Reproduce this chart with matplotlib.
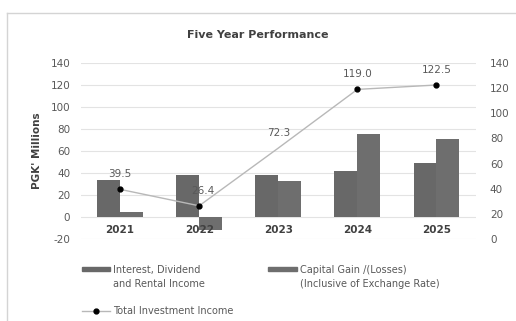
import matplotlib.pyplot as plt
import matplotlib.patches as mpatches
from matplotlib.lines import Line2D
import numpy as np

plt.rcParams['font.family'] = ['DejaVu Sans']
plt.rcParams['axes.unicode_minus'] = False

BAR1_COLOR = '#686868'
BAR2_COLOR = '#6e6e6e'
LINE_COLOR = '#b8b8b8'
TEXT_COLOR = '#595959'
DARK_TEXT = '#404040'

years = ['2021', '2022', '2023', '2024', '2025']
interest_income = [34.0, 38.5, 38.5, 42.0, 49.5]
capital_gain = [5.0, -12.0, 32.5, 75.5, 71.0]
total_income = [39.5, 26.4, 72.3, 119.0, 122.5]
total_label_dx = [0, 3, 0, 0, 0]

left_ticks = list(range(-20, 141, 20))
right_ticks = list(range(0, 141, 20))

legend_labels = [
    'Interest, Dividend\nand Rental Income',
    'Capital Gain /(Losses)\n(Inclusive of Exchange Rate)',
    'Total Investment Income',
]


def px(xp, yp):
    # pixel position (from top-left) -> figure fraction
    return xp / 516, 1 - yp / 321


fig = plt.figure(figsize=(5.16, 3.21), dpi=100)
fig.patch.set_facecolor('white')

# chart frame: only the top and left edges fall inside the image
fig.add_artist(Line2D([7 / 516, 1], [1 - 13 / 321] * 2, color='#d4d4d4', lw=1.0))
fig.add_artist(Line2D([7 / 516] * 2, [0, 1 - 13 / 321], color='#d4d4d4', lw=1.0))

ax = fig.add_axes([80.5 / 516, 1 - 239 / 321, 395.5 / 516, 176 / 321])
x = np.arange(len(years))
w = 0.29
ax.bar(x - w / 2, interest_income, w, color=BAR1_COLOR, zorder=2)
ax.bar(x + w / 2, capital_gain, w, color=BAR2_COLOR, zorder=2)
ax.set_xlim(-0.5, len(years) - 0.5)
ax.set_ylim(-20, 140)
ax.set_yticks(left_ticks)
ax.set_xticks([])
ax.grid(axis='y', color='#e3e3e3', lw=0.8, zorder=0)
for s in ax.spines.values():
    s.set_visible(False)
ax.tick_params(axis='y', length=0, pad=7.5, labelsize=7.5, labelcolor=TEXT_COLOR)
ax.set_ylabel("PGK' Millions", fontsize=7.5, fontweight='bold', color=DARK_TEXT, labelpad=6)

for i, yr in enumerate(years):
    ax.text(i, -11.5, yr, ha='center', va='center', fontsize=7.5,
            fontweight='bold', color=DARK_TEXT, zorder=3)

ax2 = ax.twinx()
ax2.plot(x, total_income, '-o', color=LINE_COLOR, lw=1.0, ms=3.5,
         markerfacecolor='black', markeredgecolor='black',
         markevery=[0, 1, 3, 4], zorder=3)
ax2.set_ylim(0, 140)
ax2.set_yticks(right_ticks)
for s in ax2.spines.values():
    s.set_visible(False)
ax2.tick_params(axis='y', length=0, pad=10, labelsize=7.5, labelcolor=TEXT_COLOR)

for i, v in enumerate(total_income):
    ax2.annotate(f'{v:.1f}', (i, v), xytext=(total_label_dx[i], 11),
                 textcoords='offset points', ha='center', va='center',
                 fontsize=7.5, color=TEXT_COLOR)

fig.text(*px(258, 35), 'Five Year Performance', ha='center', va='center',
         fontsize=8, fontweight='bold', color=DARK_TEXT)

# legend, laid out by hand below the plot
for (x0, x1), color, label in [((82, 110), BAR1_COLOR, legend_labels[0]),
                               ((268, 297), BAR2_COLOR, legend_labels[1])]:
    fx0, fy = px(x0, 271)
    fx1, _ = px(x1, 271)
    fig.add_artist(mpatches.Rectangle((fx0, fy), fx1 - fx0, 4 / 321,
                                      color=color, transform=fig.transFigure))
    fig.text(*px(x1 + 3, 277), label, ha='left', va='center', fontsize=7,
             color=TEXT_COLOR, linespacing=1.45)

lx0, ly = px(82, 311)
lx1, _ = px(110, 311)
fig.add_artist(Line2D([lx0, lx1], [ly, ly], color=LINE_COLOR, lw=1.0))
fig.add_artist(Line2D([(lx0 + lx1) / 2], [ly], marker='o', ms=3.5, color='black'))
fig.text(*px(113, 311), legend_labels[2], ha='left', va='center', fontsize=7,
         color=TEXT_COLOR)

fig.savefig('out.png', dpi=100, facecolor='white')
